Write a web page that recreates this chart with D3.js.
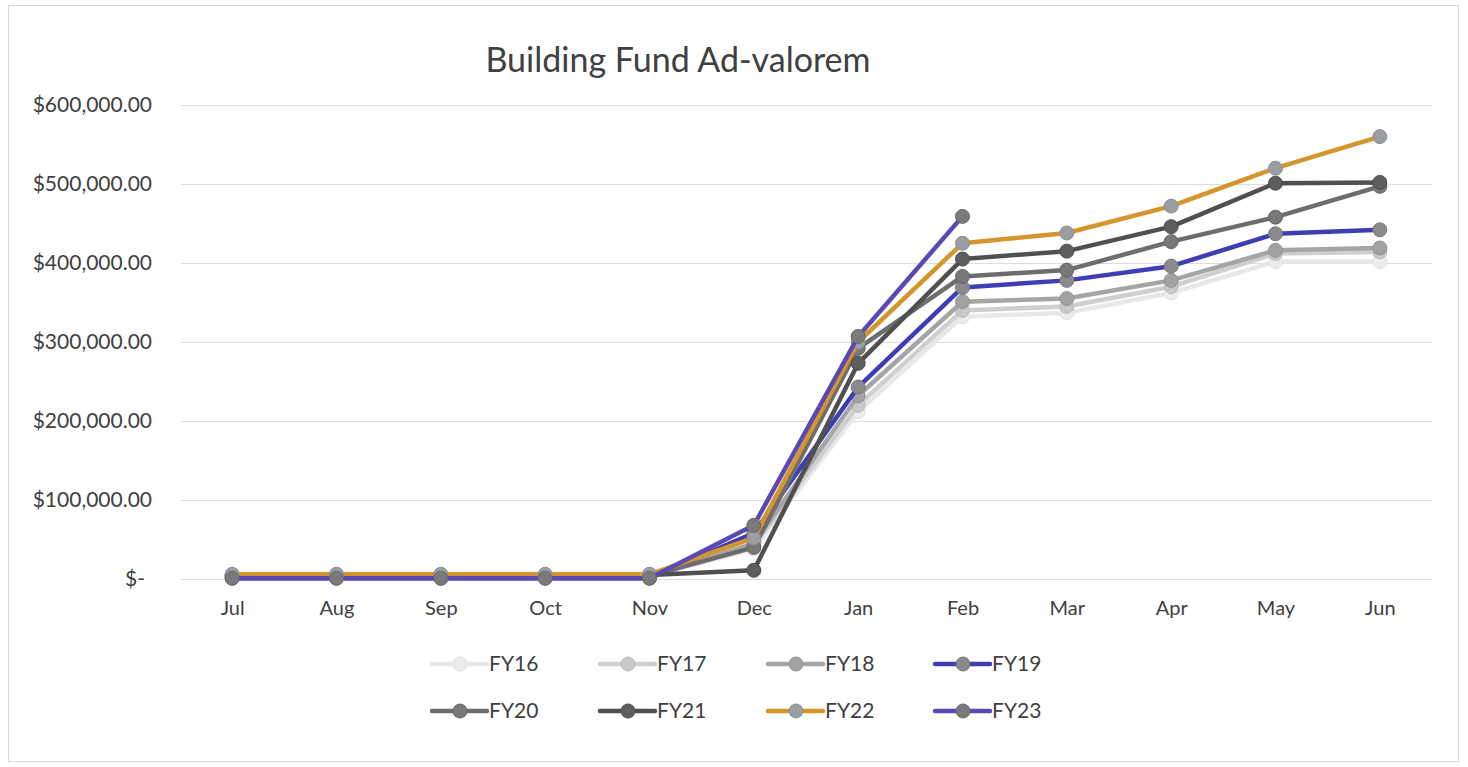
<!DOCTYPE html>
<html>
<head>
<meta charset="utf-8">
<script src="https://cdn.jsdelivr.net/npm/d3@7"></script>
<style>
  html, body { margin: 0; padding: 0; background: #fff; }
  svg { display: block; }
  text { font-family: "Lato", "Open Sans", sans-serif; fill: #404040; }
</style>
</head>
<body>
<svg id="chart" width="1468" height="767"></svg>
<script>
const title = "Building Fund Ad-valorem";
const months = ["Jul","Aug","Sep","Oct","Nov","Dec","Jan","Feb","Mar","Apr","May","Jun"];
const yTicks = [0, 100000, 200000, 300000, 400000, 500000, 600000];
const seriesNames = ["FY16","FY17","FY18","FY19","FY20","FY21","FY22","FY23"];
const FY16 = [3000, 3000, 3000, 3000, 3000, 38000, 212000, 332000, 337000, 362000, 402000, 402000];
const FY17 = [3000, 3000, 3000, 3000, 3000, 42000, 220000, 340000, 345000, 370000, 412000, 414000];
const FY18 = [3000, 3000, 3000, 3000, 3000, 45000, 232000, 351000, 355000, 378000, 416000, 419000];
const FY19 = [1000, 1000, 1000, 1000, 1000, 58000, 243000, 369000, 378000, 396000, 437000, 442000];
const FY20 = [4000, 4000, 4000, 4000, 4000, 40000, 292000, 383000, 391000, 427000, 458000, 497000];
const FY21 = [5000, 5000, 5000, 5000, 5000, 11000, 273000, 405000, 415000, 446000, 501000, 502000];
const FY22 = [6000, 6000, 6000, 6000, 6000, 52000, 300000, 425000, 438000, 472000, 520000, 560000];
const FY23 = [1000, 1000, 1000, 1000, 1000, 68000, 307000, 459000, null, null, null, null];
const seriesValues = [FY16, FY17, FY18, FY19, FY20, FY21, FY22, FY23];
const lineColors = ["#e8e8ea", "#cfcfd1", "#a5a5a7", "#3e3eb4", "#6d6d6f", "#505052", "#d4962a", "#5a48b4"];
const markerFill = ["#ececee", "#c8c8ca", "#a2a2a4", "#8a8a8c", "#78787a", "#5e5e60", "#9a9ea2", "#7a7a7c"];
const markerStroke = ["#e0e0e2", "#bdbdbf", "#949496", "#7a7a7c", "#666668", "#4e4e50", "#8c9094", "#6a6a6c"];

const svg = d3.select("#chart");

// chart border
svg.append("rect").attr("x", 8.5).attr("y", 5.5).attr("width", 1450).attr("height", 756)
  .attr("fill", "none").attr("stroke", "#d9d9d9").attr("stroke-width", 1);

svg.append("text").attr("x", 678).attr("y", 72).attr("text-anchor", "middle")
  .style("font-size", "34px").style("fill", "#404040").text(title);

const x = d3.scalePoint().domain(months).range([180, 1432]).padding(0.5);
const y = d3.scaleLinear().domain([0, 600000]).range([579, 105]);

// gridlines
svg.append("g").selectAll("line").data(yTicks).join("line")
  .attr("x1", 181).attr("x2", 1432)
  .attr("y1", d => Math.round(y(d)) + 0.5).attr("y2", d => Math.round(y(d)) + 0.5)
  .attr("stroke", "#dcdcdc").attr("stroke-width", 1);

// y axis labels
const fmt = d3.format(",.2f");
const yAxis = d3.axisLeft(y).tickValues(yTicks).tickSize(0).tickPadding(0)
  .tickFormat(d => d === 0 ? "$-" : "$" + fmt(d));
const gy = svg.append("g").attr("transform", "translate(152,0)").call(yAxis);
gy.select(".domain").remove();
gy.selectAll("text").style("font-size", "21px").style("font-family", "Lato, sans-serif").attr("fill", "#404040")
  .attr("dy", "0.32em")
  .attr("x", d => d === 0 ? -7 : 0);

// x axis labels
const xAxis = d3.axisBottom(x).tickSize(0).tickPadding(0);
const gx = svg.append("g").attr("transform", "translate(0,601)").call(xAxis);
gx.select(".domain").remove();
gx.selectAll("text").style("font-size", "20px").style("font-family", "Lato, sans-serif").attr("fill", "#404040").attr("dy", "0.71em");

// lines
seriesValues.forEach((vals, si) => {
  const pts = vals.map((v, i) => ({m: months[i], v})).filter(p => p.v != null);
  const g = svg.append("g");
  g.append("path").datum(pts)
    .attr("d", d3.line().x(p => x(p.m)).y(p => y(p.v)))
    .attr("fill", "none").attr("stroke", lineColors[si]).attr("stroke-width", 4.5)
    .attr("stroke-linejoin", "round").attr("stroke-linecap", "round");
  g.selectAll("circle").data(pts).join("circle")
    .attr("cx", p => x(p.m)).attr("cy", p => y(p.v)).attr("r", 7)
    .attr("fill", markerFill[si]).attr("stroke", markerStroke[si]).attr("stroke-width", 1);
});

// legend
const legX = [432, 600, 768, 935];
const legY = [664, 711];
seriesNames.forEach((name, i) => {
  const lx = legX[i % 4], ly = legY[Math.floor(i / 4)];
  const g = svg.append("g").attr("transform", `translate(${lx},${ly})`);
  g.append("line").attr("x1", 0).attr("x2", 55).attr("y1", 0).attr("y2", 0)
    .attr("stroke", lineColors[i]).attr("stroke-width", 4.5).attr("stroke-linecap", "round");
  g.append("circle").attr("cx", 28).attr("cy", 0).attr("r", 7)
    .attr("fill", markerFill[i]).attr("stroke", markerStroke[i]);
  g.append("text").attr("x", 57).attr("y", 0).attr("dy", "0.35em")
    .style("font-size", "21px").text(name);
});
</script>
</body>
</html>
